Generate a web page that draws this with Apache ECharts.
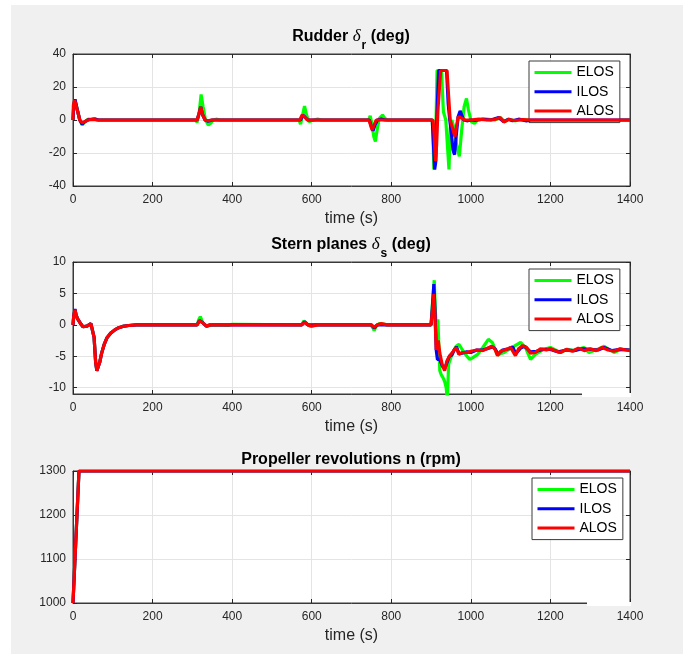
<!DOCTYPE html>
<html>
<head>
<meta charset="utf-8">
<script src="https://cdn.jsdelivr.net/npm/echarts@6/dist/echarts.min.js"></script>
<style>
html,body{margin:0;padding:0;background:#fff;}
#c{width:683px;height:654px;}
</style>
</head>
<body>
<div id="c"></div>
<script>
// ---------- data (time s, value) ----------
const seriesNames = ['ELOS', 'ILOS', 'ALOS'];
const seriesColors = ['#00ff00', '#0000ff', '#ff0000'];

const xTicks = [0, 200, 400, 600, 800, 1000, 1200, 1400];
const rudderTicks = [-40, -20, 0, 20, 40];
const sternTicks = [-10, -5, 0, 5, 10];
const propTicks = [1000, 1100, 1200, 1300];

const rudderELOS = [[0,0],[2,9],[5,12.5],[8,12],[12,5],[17,0],[23,-3],[30,-1],[38,0.5],[45,0.3],[55,0.8],[62,0],[100,0],
 [308,0],[312,-1.5],[317,4],[322,15.5],[327,8],[333,0],[340,-3],[346,-2],[352,0],[360,0.5],[370,0],
 [568,0],[572,-2.5],[577,3],[582,8.5],[587,3],[593,-1],[598,-1.5],[605,0],[615,0.5],[625,0],
 [743,0],[747,2.5],[751,-2],[756,-10],[760,-13],[765,-5],[770,1],[778,3],[784,1],[790,0],
 [903,0],[905,-10],[907,-30],[910,-22],[913,5],[915,30],[926,30],[931,5],[937,0],[941,-15],[945,-30],[948,-5],[952,0],
 [958,-5],[964,-15],[971,-22],[977,-6],[983,8],[989,13],[994,6],[1001,-1],[1009,-2],[1017,0],[1040,0.5],[1060,0],
 [1075,1.5],[1085,-1],[1095,0.5],[1110,-0.5],[1130,0.3],[1150,0],[1320,0],[1325,-1],[1330,0],[1400,0]];
const rudderILOS = [[0,0],[2,9],[5,12.5],[8,12],[12,5],[17,0],[23,-2.5],[30,-1],[40,0.3],[55,0.5],[65,0],
 [312,0],[317,4],[321,8],[326,3],[332,0],[340,-0.8],[350,0],
 [572,0],[578,3],[583,2],[590,0],
 [745,0],[750,-4],[754,-6.5],[759,-3],[765,0],[775,0.5],[785,0],
 [903,0],[906,-15],[909,-30],[912,-25],[915,5],[919,30],[939,30],[943,10],[947,0],[951,-8],[955,-18],[959,-21],[963,-10],
 [968,2],[973,5.5],[977,5],[982,0],[990,-0.5],[1000,0],[1010,-0.3],[1030,0.5],[1050,0],[1070,1.5],[1082,-1],[1095,0.5],
 [1105,-0.5],[1120,0.5],[1140,-0.5],[1150,0],[1400,0]];
const rudderALOS = [[0,0],[1,9],[4,12],[8,12],[12,5],[17,0],[23,-1.6],[30,-1],[37,0],[50,0.4],[60,0],
 [312,0],[318,5],[321,8],[326,3],[332,0],[340,-0.5],[348,0],
 [570,0],[576,3],[582,2],[589,0],
 [744,0],[749,-4],[752,-6],[757,-3],[762,0],
 [905,0],[908,-10],[911,-25],[914,-15],[917,5],[920,6],[924,30],[940,30],[944,15],[948,0],[954,-5],[960,-10],[964,-4],
 [968,2],[972,3],[978,1],[985,0],[1000,0],[1020,0.5],[1040,0],[1060,0.3],[1073,1.5],[1083,-1.2],[1095,0.3],[1110,-0.3],
 [1130,0.3],[1150,0],[1400,0]];

const sternELOS = [[0,0],[2,1.5],[5,2.4],[8,1.5],[12,0.9],[18,0.3],[25,-0.3],[35,-0.2],[45,0.2],[50,0.1],[53,-2],[57,-6],[60,-7.3],[63,-7],
 [67,-6],[72,-4.5],[78,-3.2],[85,-2.1],[95,-1.3],[105,-0.8],[115,-0.45],[125,-0.25],[140,-0.1],[160,0],
 [312,0],[316,0.8],[320,1.3],[326,0.4],[335,-0.2],[345,-0.1],[360,0],[390,-0.1],[400,0.1],
 [575,0],[580,0.6],[586,0.3],[595,-0.2],[610,0],[748,0],[754,-0.5],[757,-0.9],[762,-0.2],[770,0.2],[790,0],
 [900,0],[903,3],[908,7.1],[911,2],[914,-3],[917,0.9],[920,-4],[922,-7.3],[926,-8],[930,-8.4],[934,-9],[938,-10],[941,-12],
 [944,-6.3],[948,-5.5],[953,-4.7],[958,-4],[963,-3.4],[970,-3.1],[980,-4.1],[990,-5],[997,-5.5],[1005,-5.2],[1017,-4.7],
 [1030,-3.6],[1044,-2.3],[1054,-2.8],[1067,-4.8],[1083,-4.4],[1104,-3.6],[1125,-2.8],[1137,-3.6],[1150,-5.5],[1162,-4.7],
 [1183,-3.9],[1200,-3.6],[1225,-4.4],[1242,-3.9],[1259,-4.1],[1284,-3.6],[1297,-4.4],[1318,-3.9],[1335,-3.4],[1360,-4.4],
 [1377,-3.9],[1400,-4.0]];
const sternILOS = [[0,0],[2,1.5],[5,2.5],[8,1.5],[12,0.9],[18,0.3],[25,-0.3],[35,-0.2],[45,0.2],[50,0.1],[53,-2],[57,-6],[60,-7.3],[63,-7],
 [67,-6],[72,-4.5],[78,-3.2],[85,-2.1],[95,-1.3],[105,-0.8],[115,-0.45],[125,-0.25],[140,-0.1],[160,0],
 [312,0],[318,0.7],[325,0.4],[335,-0.2],[345,0],[575,0],[582,0.5],[590,0],[750,0],[757,-0.5],[765,0],
 [900,0],[903,2.5],[907,6.5],[910,2],[913,-4],[916,-5.5],[922,-5.5],[928,-6.5],[934,-7],[940,-6],[946,-5],[952,-4.8],
 [958,-4],[964,-3.5],[970,-4.6],[978,-4.5],[990,-4.3],[1000,-4.4],[1015,-4.0],[1030,-4.0],[1045,-3.7],[1055,-3.5],
 [1062,-3.9],[1068,-4.7],[1080,-4.0],[1095,-3.8],[1105,-3.5],[1113,-4.6],[1125,-3.7],[1135,-3.4],[1150,-4.3],[1165,-4.2],
 [1180,-3.9],[1200,-3.9],[1220,-4.3],[1240,-4.0],[1260,-4.1],[1280,-3.8],[1300,-3.9],[1320,-4.0],[1335,-3.6],[1355,-4.1],
 [1375,-3.9],[1400,-4.0]];
const sternALOS = [[0,0],[2,1.5],[5,2.4],[8,1.5],[12,0.9],[18,0.3],[25,-0.3],[35,-0.2],[45,0.2],[50,0.1],[53,-2],[57,-6],[60,-7.3],[63,-7],
 [67,-6],[72,-4.5],[78,-3.2],[85,-2.1],[95,-1.3],[105,-0.8],[115,-0.45],[125,-0.25],[140,-0.1],[160,0],
 [312,0],[318,0.6],[325,0.4],[335,-0.2],[345,0],[575,0],[582,0.4],[590,0],[600,-0.2],[615,0],
 [750,0],[757,-0.4],[765,0],[775,0.2],[790,0],
 [900,0],[903,2],[907,4.9],[910,1],[913,-4],[918,-2.5],[922,-4.5],[928,-6.3],[934,-7.3],[940,-5.7],[946,-5],[952,-4.5],
 [957,-4.1],[963,-3.6],[970,-4.7],[978,-4.4],[990,-4.4],[1000,-4.2],[1015,-4.0],[1030,-4.1],[1040,-3.8],[1052,-3.4],
 [1060,-3.8],[1067,-4.9],[1075,-4.2],[1090,-3.9],[1100,-3.6],[1112,-4.9],[1120,-3.8],[1130,-3.3],[1140,-3.6],[1150,-4.5],
 [1162,-4.4],[1175,-3.8],[1190,-4.0],[1200,-3.8],[1215,-4.2],[1225,-4.4],[1240,-3.9],[1255,-4.2],[1270,-3.7],[1285,-4.1],
 [1300,-3.8],[1315,-4.1],[1330,-3.6],[1345,-4.0],[1360,-4.2],[1375,-3.8],[1390,-4.0],[1400,-4.1]];

const propELOS = [[0,1000],[3,1060],[15,1300],[1400,1300]];
const propILOS = [[0,1000],[3,1060],[15,1300],[1400,1300]];
const propALOS = [[0,1000],[3,1060],[15,1300],[1400,1300]];

// ---------- layout ----------
const FONT = '"Liberation Sans", Arial, Helvetica, sans-serif';
const AX = '#262626';
const plots = [
  { top: 54, min: -40, max: 40, ticks: rudderTicks, data: [rudderELOS, rudderILOS, rudderALOS] },
  { top: 262, min: -11, max: 10, ticks: sternTicks, data: [sternELOS, sternILOS, sternALOS] },
  { top: 471, min: 1000, max: 1300, ticks: propTicks, data: [propELOS, propILOS, propALOS] }
];
const GL = 73, GW = 557, GH = 132;
const fmt = v => String(v);

const grid = [], xAxis = [], yAxis = [], series = [], legend = [];
plots.forEach((p, i) => {
  grid.push({ left: GL, top: p.top, width: GW, height: GH, show: true,
    backgroundColor: '#ffffff', borderColor: '#3a3a3a', borderWidth: 1 });
  const tick = () => ({ show: true, inside: true, length: 4, lineStyle: { color: AX, width: 1 } });
  xAxis.push({ type: 'value', gridIndex: i, position: 'bottom', min: 0, max: 1400,
    axisLine: { show: true, onZero: false, lineStyle: { color: '#3a3a3a' } },
    axisTick: Object.assign(tick(), { customValues: xTicks }),
    axisLabel: { customValues: xTicks, formatter: fmt, color: AX, fontSize: 12, fontFamily: FONT, margin: 8 },
    splitLine: { show: true, lineStyle: { color: '#e4e4e4', width: 1 } },
    name: 'time (s)', nameLocation: 'middle', nameGap: 25,
    nameTextStyle: { color: AX, fontSize: 16, fontFamily: FONT } });
  xAxis.push({ type: 'value', gridIndex: i, position: 'top', min: 0, max: 1400,
    axisLine: { show: true, onZero: false, lineStyle: { color: '#3a3a3a' } },
    axisTick: Object.assign(tick(), { customValues: xTicks }),
    axisLabel: { show: false, customValues: xTicks }, splitLine: { show: false } });
  yAxis.push({ type: 'value', gridIndex: i, position: 'left', min: p.min, max: p.max,
    axisLine: { show: true, onZero: false, lineStyle: { color: '#3a3a3a' } },
    axisTick: Object.assign(tick(), { customValues: p.ticks }),
    axisLabel: { customValues: p.ticks, formatter: fmt, color: AX, fontSize: 12, fontFamily: FONT, margin: 7 },
    splitLine: { show: true, lineStyle: { color: '#e4e4e4', width: 1 } } });
  yAxis.push({ type: 'value', gridIndex: i, position: 'right', min: p.min, max: p.max,
    axisLine: { show: true, onZero: false, lineStyle: { color: '#3a3a3a' } },
    axisTick: Object.assign(tick(), { customValues: p.ticks }),
    axisLabel: { show: false, customValues: p.ticks }, splitLine: { show: false } });
  p.data.forEach((d, k) => {
    series.push({ type: 'line', name: seriesNames[k], xAxisIndex: 2 * i, yAxisIndex: 2 * i,
      data: d, showSymbol: false, symbol: 'none', clip: true, z: 3 + k,
      lineStyle: { color: seriesColors[k], width: 3.2 }, itemStyle: { color: seriesColors[k] } });
  });
  const legTop = [61, 269, 478][i];
  const legLeft = [529, 529, 532][i];
  legend.push({ data: seriesNames, orient: 'vertical', left: legLeft, top: legTop,
    icon: 'rect', itemWidth: 37, itemHeight: 3, itemGap: 3.3,
    padding: [3.5, 6, 3.5, 5.5], backgroundColor: '#ffffff', borderColor: '#3a3a3a', borderWidth: 1,
    borderRadius: 0, selectedMode: false,
    textStyle: { color: '#000', fontSize: 14, fontFamily: FONT, lineHeight: 16 } });
});

const richT = {
  a: { fontSize: 16, fontWeight: 'bold', fontFamily: FONT, color: '#000' },
  d: { fontSize: 17, fontWeight: 'normal', fontStyle: 'italic', fontFamily: '"Liberation Serif", "DejaVu Serif", serif', color: '#000' },
  s: { fontSize: 12, fontWeight: 'bold', fontFamily: FONT, color: '#000', padding: [18, 0, 0, 1] }
};
const title = [
  { text: '{a|Rudder }{d|δ}{s|r}{a| (deg)}', left: 351, textAlign: 'center', top: 22, padding: 0,
    textStyle: { rich: richT } },
  { text: '{a|Stern planes }{d|δ}{s|s}{a| (deg)}', left: 351, textAlign: 'center', top: 230, padding: 0,
    textStyle: { rich: richT } },
  { text: 'Propeller revolutions n (rpm)', left: 351, textAlign: 'center', top: 452, padding: 0,
    textStyle: { fontSize: 16, fontWeight: 'bold', fontFamily: FONT, color: '#000' } }
];

const chart = echarts.init(document.getElementById('c'), null, { renderer: 'canvas' });
chart.setOption({
  animation: false,
  backgroundColor: '#f0f0f0',
  title, grid, xAxis, yAxis, series, legend,
  graphic: [
    { type: 'rect', shape: { x: 0, y: 0, width: 11, height: 654 }, style: { fill: '#ffffff' }, z: 100 },
    { type: 'rect', shape: { x: 0, y: 0, width: 683, height: 5 }, style: { fill: '#ffffff' }, z: 100 },
    { type: 'rect', shape: { x: 582, y: 393, width: 49, height: 4 }, style: { fill: '#ffffff' }, z: 100 },
    { type: 'rect', shape: { x: 587, y: 602, width: 44, height: 4 }, style: { fill: '#ffffff' }, z: 100 }
  ]
});
</script>
</body>
</html>
